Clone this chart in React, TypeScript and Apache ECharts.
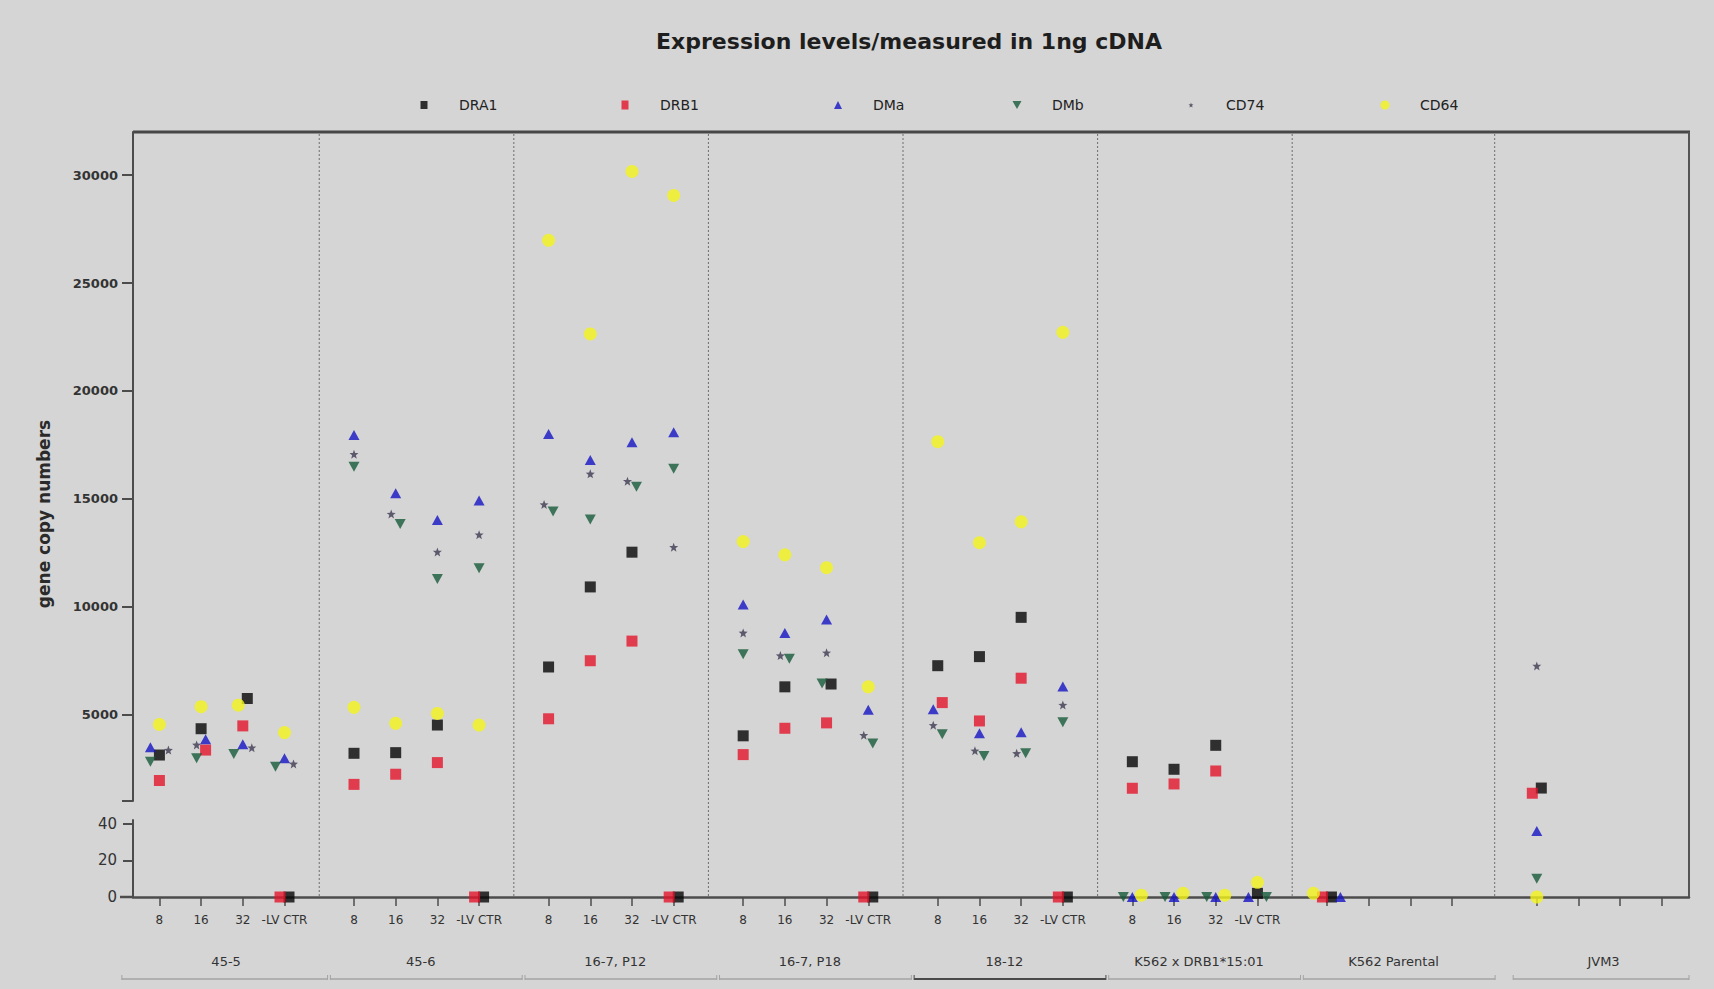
import { useEffect, useRef } from "react";
import * as echarts from "echarts";

// ---------------- data ----------------
const groups = ["45-5", "45-6", "16-7, P12", "16-7, P18", "18-12", "K562 x DRB1*15:01", "K562 Parental", "JVM3"];
const conditions = ["8", "16", "32", "-LV CTR"];
const labelledGroupCount = 6;
const upperTickValues = [5000, 10000, 15000, 20000, 25000, 30000];
const lowerTickValues = [0, 20, 40];

// 8 groups x 4 conditions (8, 16, 32, -LV CTR); null = not measured / not visible
const DRA1 = [3130, 4350, 5750, 0, 3210, 3240, 4520, 0, 7210, 10920, 12530, 0, 4020, 6290, 6420, 0, 7270, 7690, 9510, 0, 2820, 2470, 3580, 2, 0, null, null, null, 1600, null, null, null];
const DRB1 = [1950, 3360, 4480, 0, 1770, 2240, 2780, 0, 4810, 7500, 8410, 0, 3150, 4370, 4620, 0, 5560, 4710, 6690, 0, 1590, 1790, 2390, null, 0, null, null, null, 1360, null, null, null];
const DMa = [3490, 3860, 3630, 2980, 17960, 15260, 14020, 14920, 18010, 16800, 17620, 18090, 10110, 8790, 9410, 5230, 5250, 4140, 4180, 6300, 0, 0, 0, 0, 0, null, null, null, 36, null, null, null];
const DMb = [2820, 2980, 3180, 2590, 16490, 13840, 11290, 11780, 14420, 14040, 15560, 16390, 7800, 7590, 6450, 3670, 4090, 3090, 3210, 4650, 0, 0, 0, 0, null, null, null, null, 10, null, null, null];
const CD74 = [3360, 3600, 3470, 2720, 17070, 14300, 12540, 13340, 14740, 16160, 15820, 12760, 8790, 7740, 7870, 4050, 4510, 3330, 3210, 5450, null, null, null, null, null, null, null, null, 7260, null, null, null];
const CD64 = [4550, 5370, 5440, 4170, 5340, 4600, 5060, 4520, 26980, 22640, 30170, 29060, 13020, 12410, 11810, 6290, 17650, 12970, 13940, 22720, 1, 2, 1, 8, 2, null, null, null, 0, null, null, null];

// ---------------- layout / style ----------------
const W = 1714;
const H = 989;
const FONT = "DejaVu Sans, Liberation Sans, Arial, sans-serif";
const PLOT_LEFT = 133;
const PLOT_RIGHT = 1689;
const UP_TOP = 132;
const UP_BOTTOM = 801;
const LO_TOP = 820;
const LO_BOTTOM = 897;
const UPPER_MIN = 1000;
const UPPER_MAX = 32000;
const LOWER_MAX = 42;
const X_MIN = 0.6;
const X_MAX = 112.55;
const GROUP_W = 14;
const NUDGE = 9;
const COLLIDE_Y = 10;

const DOWN_TRI = "path://M0,0L10,0L5,9Z";
const STAR = "path://M5,0L6.3,3.4L10,3.6L7.1,5.9L8.1,9.5L5,7.5L1.9,9.5L2.9,5.9L0,3.6L3.7,3.4Z";

const SERIES = [
  { name: "DRA1", data: DRA1, color: "#050505", symbol: "rect", size: [11, 11], icon: "rect", iconSize: [7, 8] },
  { name: "DRB1", data: DRB1, color: "#e4152a", symbol: "rect", size: [11, 11], icon: "rect", iconSize: [7, 9] },
  { name: "DMa", data: DMa, color: "#1414c4", symbol: "triangle", size: [11, 10], icon: "triangle", iconSize: [8, 8] },
  { name: "DMb", data: DMb, color: "#165a38", symbol: DOWN_TRI, size: [11, 10], icon: DOWN_TRI, iconSize: [9, 9] },
  { name: "CD74", data: CD74, color: "#3e3a52", symbol: STAR, size: [9, 9], icon: STAR, iconSize: [5, 5] },
  { name: "CD64", data: CD64, color: "#f4f41c", symbol: "circle", size: [13, 13], icon: "circle", iconSize: [9, 9] },
];
const LEGEND_X = [419, 620, 833, 1012, 1186, 1380];
const LEGEND_Y = 101;

const groupStart = (g: number) => (g === 7 ? 99.1 : g * GROUP_W);
const columnX = (g: number, k: number) => groupStart(g) + 2.5 + 3 * k;
const SEPARATORS = [14, 28, 42, 56, 70, 84, 98.57];

const PX_PER_X = (PLOT_RIGHT - PLOT_LEFT) / (X_MAX - X_MIN);
const yToPx = (v: number) =>
  v >= UPPER_MIN
    ? UP_BOTTOM - ((v - UPPER_MIN) / (UPPER_MAX - UPPER_MIN)) * (UP_BOTTOM - UP_TOP)
    : LO_BOTTOM - (v / LOWER_MAX) * (LO_BOTTOM - LO_TOP);

// overlap-avoiding horizontal nudge (column scatter), then each colliding cluster is re-centred
const nColumns = groups.length * conditions.length;
const nudges: number[][] = SERIES.map(() => new Array(nColumns).fill(0));
for (let c = 0; c < nColumns; c++) {
  const placed: { si: number; y: number; dx: number }[] = [];
  SERIES.forEach((s, si) => {
    const v = s.data[c];
    if (v == null) return;
    const y = yToPx(v);
    for (const o of [0, -1, 1, -2, 2, -3, 3]) {
      const dx = o * NUDGE;
      if (!placed.some((p) => Math.abs(p.y - y) < COLLIDE_Y && Math.abs(p.dx - dx) < NUDGE * 0.9)) {
        placed.push({ si, y, dx });
        break;
      }
    }
  });
  // clusters by vertical proximity
  const sorted = [...placed].sort((a, b) => a.y - b.y);
  let cluster: typeof placed = [];
  const flush = () => {
    if (!cluster.length) return;
    const mn = Math.min(...cluster.map((p) => p.dx));
    const mx = Math.max(...cluster.map((p) => p.dx));
    const shift = -(mn + mx) / 2;
    cluster.forEach((p) => (nudges[p.si][c] = (p.dx + shift) / PX_PER_X));
    cluster = [];
  };
  sorted.forEach((p, i) => {
    if (i > 0 && p.y - sorted[i - 1].y >= COLLIDE_Y) flush();
    cluster.push(p);
  });
  flush();
}

const tickXs: number[] = [];
const labelXs: number[] = [];
const labelMap: Record<string, string> = {};
groups.forEach((_, g) => {
  conditions.forEach((cond, k) => {
    const x = columnX(g, k);
    tickXs.push(x);
    if (g < labelledGroupCount) {
      labelXs.push(x);
      labelMap[x.toFixed(3)] = cond;
    }
  });
});

function buildOption() {
  const series: any[] = [];
  SERIES.forEach((s, si) => {
    const up: number[][] = [];
    const lo: number[][] = [];
    s.data.forEach((v, c) => {
      if (v == null) return;
      const g = Math.floor(c / 4);
      const k = c % 4;
      const x = columnX(g, k) + nudges[si][c];
      (v >= UPPER_MIN ? up : lo).push([x, v]);
    });
    const common = {
      type: "scatter",
      name: s.name,
      symbol: s.symbol,
      symbolSize: s.size,
      itemStyle: { color: s.color },
      clip: false,
      z: 3 + si,
      emphasis: { disabled: true },
    };
    series.push({ ...common, xAxisIndex: 0, yAxisIndex: 0, data: up });
    series.push({ ...common, xAxisIndex: 1, yAxisIndex: 1, data: lo });
  });

  const legend = SERIES.map((s, i) => ({
    data: [s.name],
    left: LEGEND_X[i] - s.iconSize[0] / 2,
    top: LEGEND_Y - 8,
    icon: s.icon,
    itemWidth: s.iconSize[0],
    itemHeight: s.iconSize[1],
    selectedMode: false,
    itemStyle: { color: s.color },
    textStyle: { fontSize: 14, color: "#222", fontFamily: FONT, padding: [0, 0, 0, 30 - s.iconSize[0] / 2] },
  }));

  const axisColor = "#4c4c4c";
  return {
    animation: false,
    backgroundColor: "#d5d5d5",
    textStyle: { fontFamily: FONT },
    legend,
    grid: [
      { left: PLOT_LEFT, top: UP_TOP, width: PLOT_RIGHT - PLOT_LEFT, height: UP_BOTTOM - UP_TOP },
      { left: PLOT_LEFT, top: LO_TOP, width: PLOT_RIGHT - PLOT_LEFT, height: LO_BOTTOM - LO_TOP },
    ],
    xAxis: [
      { gridIndex: 0, type: "value", min: X_MIN, max: X_MAX, show: false, splitLine: { show: false } },
      {
        gridIndex: 1,
        type: "value",
        min: X_MIN,
        max: X_MAX,
        axisLine: { show: true, onZero: false, lineStyle: { color: axisColor, width: 2.5 } },
        axisTick: { show: true, customValues: tickXs, length: 9, lineStyle: { color: axisColor, width: 1.5 } },
        axisLabel: {
          customValues: labelXs,
          formatter: (v: number) => labelMap[v.toFixed(3)] ?? "",
          margin: 17,
          fontSize: 12,
          color: "#333",
          fontFamily: FONT,
        },
        splitLine: { show: false },
      },
    ],
    yAxis: [
      {
        gridIndex: 0,
        type: "value",
        min: UPPER_MIN,
        max: UPPER_MAX,
        axisLine: { show: true, onZero: false, lineStyle: { color: axisColor, width: 2 } },
        axisTick: { show: true, customValues: [UPPER_MIN, ...upperTickValues], length: 11, lineStyle: { color: axisColor, width: 2 } },
        axisLabel: {
          customValues: upperTickValues,
          formatter: (v: number) => String(v),
          fontSize: 13,
          fontWeight: "bold",
          color: "#333",
          margin: 15,
          fontFamily: FONT,
        },
        splitLine: { show: false },
      },
      {
        gridIndex: 1,
        type: "value",
        min: 0,
        max: LOWER_MAX,
        axisLine: { show: true, onZero: false, lineStyle: { color: axisColor, width: 2 } },
        axisTick: { show: true, customValues: lowerTickValues, length: 10, lineStyle: { color: axisColor, width: 2 } },
        axisLabel: {
          customValues: lowerTickValues,
          formatter: (v: number) => String(v),
          fontSize: 15,
          color: "#333",
          margin: 16,
          fontFamily: FONT,
        },
        splitLine: { show: false },
      },
    ],
    series,
  };
}

function buildGraphics(chart: echarts.ECharts) {
  const px = (x: number) => chart.convertToPixel({ xAxisIndex: 1 }, x) as number;
  const els: any[] = [];
  // title
  els.push({
    type: "text",
    x: 909,
    y: 41,
    style: { text: "Expression levels/measured in 1ng cDNA", font: `bold 22px ${FONT}`, fill: "#1e1e1e", textAlign: "center", textVerticalAlign: "middle" },
  });
  // y-axis name
  els.push({
    type: "text",
    x: 44,
    y: 514,
    rotation: Math.PI / 2,
    style: { text: "gene copy numbers", font: `bold 17px ${FONT}`, fill: "#2a2a2a", textAlign: "center", textVerticalAlign: "middle" },
  });
  // plot frame (top, right)
  els.push({ type: "line", shape: { x1: PLOT_LEFT, y1: UP_TOP, x2: PLOT_RIGHT + 1, y2: UP_TOP }, style: { stroke: "#474747", lineWidth: 3 } });
  els.push({ type: "line", shape: { x1: PLOT_RIGHT, y1: UP_TOP, x2: PLOT_RIGHT, y2: LO_BOTTOM }, style: { stroke: "#555", lineWidth: 2 } });
  // x-axis line stub left of y axis
  els.push({ type: "line", shape: { x1: 120, y1: LO_BOTTOM, x2: PLOT_LEFT, y2: LO_BOTTOM }, style: { stroke: "#4c4c4c", lineWidth: 2.5 } });
  // dotted group separators
  SEPARATORS.forEach((s) => {
    const x = px(s);
    els.push({ type: "line", z: 1, shape: { x1: x, y1: UP_TOP + 2, x2: x, y2: LO_BOTTOM - 1 }, style: { stroke: "#6e6e6e", lineWidth: 1, lineDash: [2, 2] } });
  });
  // group labels and brackets
  groups.forEach((name, g) => {
    const st = groupStart(g);
    const cx = px(st + 7.3);
    els.push({ type: "text", x: cx, y: 961, style: { text: name, font: `13px ${FONT}`, fill: "#333", textAlign: "center", textVerticalAlign: "middle" } });
    const a = px(g === 0 ? -0.2 : st + 0.8);
    const b = px(Math.min(st + 14.6, X_MAX));
    const dark = g === 4;
    const col = dark ? "#4a4a4a" : "#a3a3a3";
    const lw = dark ? 2 : 1.5;
    els.push({ type: "line", shape: { x1: a, y1: 979, x2: b, y2: 979 }, style: { stroke: col, lineWidth: lw } });
    els.push({ type: "line", shape: { x1: a, y1: 975, x2: a, y2: 980 }, style: { stroke: col, lineWidth: 1 } });
    els.push({ type: "line", shape: { x1: b, y1: 975, x2: b, y2: 980 }, style: { stroke: col, lineWidth: 1 } });
  });
  return els;
}

export default function App() {
  const ref = useRef<HTMLDivElement>(null);
  useEffect(() => {
    document.body.style.margin = "0";
    const chart = echarts.init(ref.current!, null, { renderer: "svg" });
    chart.setOption(buildOption() as any);
    chart.setOption({ graphic: buildGraphics(chart) } as any);
    return () => chart.dispose();
  }, []);
  return <div ref={ref} style={{ width: W, height: H }} />;
}
